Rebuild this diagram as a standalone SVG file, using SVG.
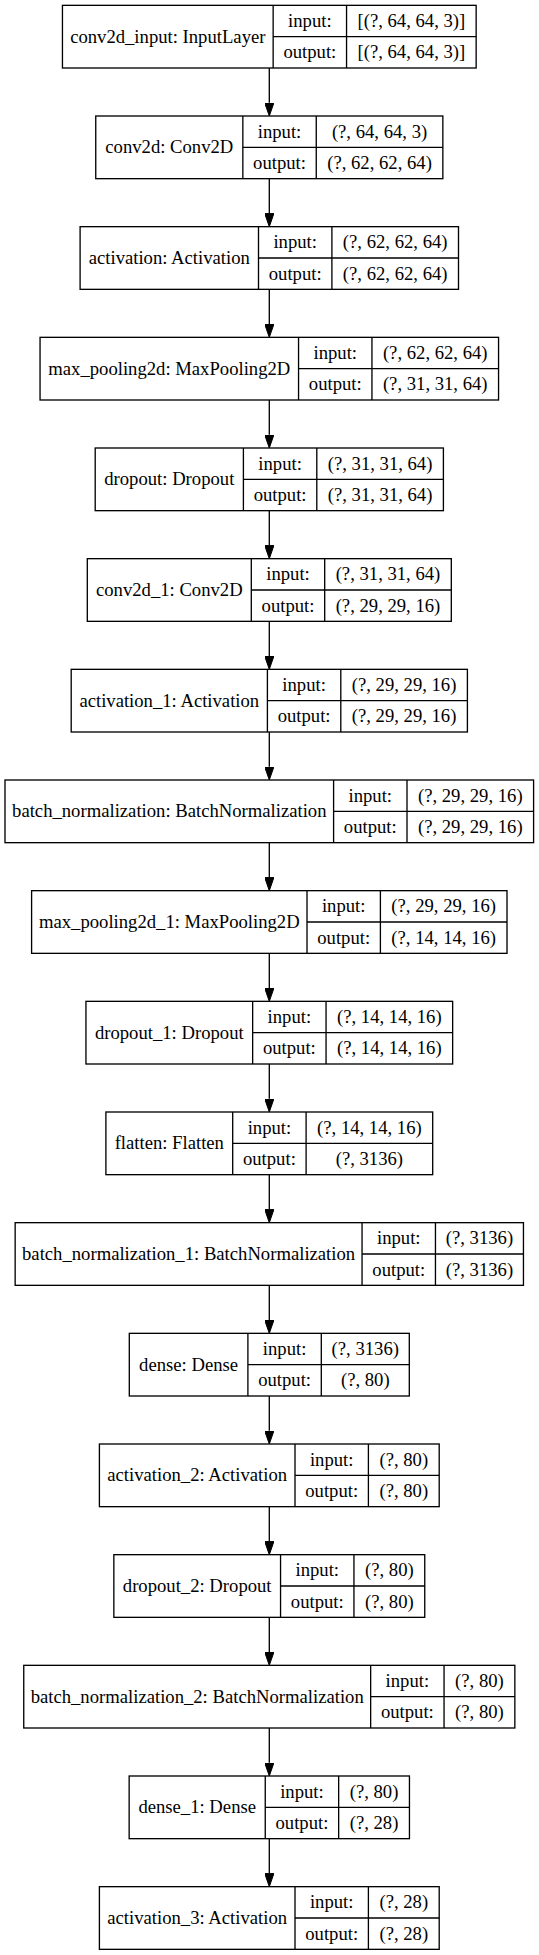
<svg xmlns="http://www.w3.org/2000/svg" width="539" height="1955" viewBox="0 0 539 1955">
<style>
.n rect{fill:#fff;stroke:#000;stroke-width:1.33}
.n line{stroke:#000;stroke-width:1.33}
.n text{font-family:"Liberation Serif","Times New Roman",serif;font-size:18.67px;text-anchor:middle;fill:#000}
.e path{fill:none;stroke:#000;stroke-width:1.33}
</style>
<defs>
<marker id="ah" markerUnits="userSpaceOnUse" viewBox="0 0 13.33 9.33" refX="0" refY="4.67" markerWidth="13.33" markerHeight="9.33" orient="auto">
<path d="M0,0 L13.33,4.67 L0,9.33 z" fill="#000" stroke="#000" stroke-width="1"/>
</marker>
</defs>
<rect x="0" y="0" width="539" height="1955" fill="#fff"/>
<g id="edges" class="e">
<path d="M269.3,68 V102.67" marker-end="url(#ah)"/>
<path d="M269.3,178.67 V213.33" marker-end="url(#ah)"/>
<path d="M269.3,289.33 V324" marker-end="url(#ah)"/>
<path d="M269.3,400 V434.67" marker-end="url(#ah)"/>
<path d="M269.3,510.67 V545.33" marker-end="url(#ah)"/>
<path d="M269.3,621.33 V656" marker-end="url(#ah)"/>
<path d="M269.3,732 V766.67" marker-end="url(#ah)"/>
<path d="M269.3,842.67 V877.33" marker-end="url(#ah)"/>
<path d="M269.3,953.33 V988" marker-end="url(#ah)"/>
<path d="M269.3,1064 V1098.67" marker-end="url(#ah)"/>
<path d="M269.3,1174.67 V1209.33" marker-end="url(#ah)"/>
<path d="M269.3,1285.33 V1320" marker-end="url(#ah)"/>
<path d="M269.3,1396 V1430.67" marker-end="url(#ah)"/>
<path d="M269.3,1506.67 V1541.33" marker-end="url(#ah)"/>
<path d="M269.3,1617.33 V1652" marker-end="url(#ah)"/>
<path d="M269.3,1728 V1762.67" marker-end="url(#ah)"/>
<path d="M269.3,1838.67 V1873.33" marker-end="url(#ah)"/>
</g>

<g id="conv2d_input" class="n" transform="translate(0,5.33)">
<rect x="62.45" y="0" width="413.7" height="62.67"/>
<line x1="273.15" y1="0" x2="273.15" y2="62.67"/><line x1="346.55" y1="0" x2="346.55" y2="62.67"/><line x1="273.15" y1="31.33" x2="476.15" y2="31.33"/>
<text x="167.8" y="37.3">conv2d_input: InputLayer</text>
<text x="309.85" y="21.7">input:</text><text x="309.85" y="53">output:</text>
<text x="411.35" y="21.7">[(?, 64, 64, 3)]</text><text x="411.35" y="53">[(?, 64, 64, 3)]</text>
</g>

<g id="conv2d" class="n" transform="translate(0,116)">
<rect x="95.75" y="0" width="347.1" height="62.67"/>
<line x1="242.85" y1="0" x2="242.85" y2="62.67"/><line x1="316.25" y1="0" x2="316.25" y2="62.67"/><line x1="242.85" y1="31.33" x2="442.85" y2="31.33"/>
<text x="169.3" y="37.3">conv2d: Conv2D</text>
<text x="279.55" y="21.7">input:</text><text x="279.55" y="53">output:</text>
<text x="379.55" y="21.7">(?, 64, 64, 3)</text><text x="379.55" y="53">(?, 62, 62, 64)</text>
</g>

<g id="activation" class="n" transform="translate(0,226.67)">
<rect x="80.1" y="0" width="378.4" height="62.67"/>
<line x1="258.5" y1="0" x2="258.5" y2="62.67"/><line x1="331.9" y1="0" x2="331.9" y2="62.67"/><line x1="258.5" y1="31.33" x2="458.5" y2="31.33"/>
<text x="169.3" y="37.3">activation: Activation</text>
<text x="295.2" y="21.7">input:</text><text x="295.2" y="53">output:</text>
<text x="395.2" y="21.7">(?, 62, 62, 64)</text><text x="395.2" y="53">(?, 62, 62, 64)</text>
</g>

<g id="max_pooling2d" class="n" transform="translate(0,337.33)">
<rect x="40.05" y="0" width="458.5" height="62.67"/>
<line x1="298.55" y1="0" x2="298.55" y2="62.67"/><line x1="371.95" y1="0" x2="371.95" y2="62.67"/><line x1="298.55" y1="31.33" x2="498.55" y2="31.33"/>
<text x="169.3" y="37.3">max_pooling2d: MaxPooling2D</text>
<text x="335.25" y="21.7">input:</text><text x="335.25" y="53">output:</text>
<text x="435.25" y="21.7">(?, 62, 62, 64)</text><text x="435.25" y="53">(?, 31, 31, 64)</text>
</g>

<g id="dropout" class="n" transform="translate(0,448)">
<rect x="95.2" y="0" width="348.2" height="62.67"/>
<line x1="243.4" y1="0" x2="243.4" y2="62.67"/><line x1="316.8" y1="0" x2="316.8" y2="62.67"/><line x1="243.4" y1="31.33" x2="443.4" y2="31.33"/>
<text x="169.3" y="37.3">dropout: Dropout</text>
<text x="280.1" y="21.7">input:</text><text x="280.1" y="53">output:</text>
<text x="380.1" y="21.7">(?, 31, 31, 64)</text><text x="380.1" y="53">(?, 31, 31, 64)</text>
</g>

<g id="conv2d_1" class="n" transform="translate(0,558.67)">
<rect x="87.3" y="0" width="364" height="62.67"/>
<line x1="251.3" y1="0" x2="251.3" y2="62.67"/><line x1="324.7" y1="0" x2="324.7" y2="62.67"/><line x1="251.3" y1="31.33" x2="451.3" y2="31.33"/>
<text x="169.3" y="37.3">conv2d_1: Conv2D</text>
<text x="288" y="21.7">input:</text><text x="288" y="53">output:</text>
<text x="388" y="21.7">(?, 31, 31, 64)</text><text x="388" y="53">(?, 29, 29, 16)</text>
</g>

<g id="activation_1" class="n" transform="translate(0,669.33)">
<rect x="71.2" y="0" width="396.2" height="62.67"/>
<line x1="267.4" y1="0" x2="267.4" y2="62.67"/><line x1="340.8" y1="0" x2="340.8" y2="62.67"/><line x1="267.4" y1="31.33" x2="467.4" y2="31.33"/>
<text x="169.3" y="37.3">activation_1: Activation</text>
<text x="304.1" y="21.7">input:</text><text x="304.1" y="53">output:</text>
<text x="404.1" y="21.7">(?, 29, 29, 16)</text><text x="404.1" y="53">(?, 29, 29, 16)</text>
</g>

<g id="batch_normalization" class="n" transform="translate(0,780)">
<rect x="5" y="0" width="528.6" height="62.67"/>
<line x1="333.6" y1="0" x2="333.6" y2="62.67"/><line x1="407" y1="0" x2="407" y2="62.67"/><line x1="333.6" y1="31.33" x2="533.6" y2="31.33"/>
<text x="169.3" y="37.3">batch_normalization: BatchNormalization</text>
<text x="370.3" y="21.7">input:</text><text x="370.3" y="53">output:</text>
<text x="470.3" y="21.7">(?, 29, 29, 16)</text><text x="470.3" y="53">(?, 29, 29, 16)</text>
</g>

<g id="max_pooling2d_1" class="n" transform="translate(0,890.67)">
<rect x="31.6" y="0" width="475.4" height="62.67"/>
<line x1="307" y1="0" x2="307" y2="62.67"/><line x1="380.4" y1="0" x2="380.4" y2="62.67"/><line x1="307" y1="31.33" x2="507" y2="31.33"/>
<text x="169.3" y="37.3">max_pooling2d_1: MaxPooling2D</text>
<text x="343.7" y="21.7">input:</text><text x="343.7" y="53">output:</text>
<text x="443.7" y="21.7">(?, 29, 29, 16)</text><text x="443.7" y="53">(?, 14, 14, 16)</text>
</g>

<g id="dropout_1" class="n" transform="translate(0,1001.33)">
<rect x="85.95" y="0" width="366.7" height="62.67"/>
<line x1="252.65" y1="0" x2="252.65" y2="62.67"/><line x1="326.05" y1="0" x2="326.05" y2="62.67"/><line x1="252.65" y1="31.33" x2="452.65" y2="31.33"/>
<text x="169.3" y="37.3">dropout_1: Dropout</text>
<text x="289.35" y="21.7">input:</text><text x="289.35" y="53">output:</text>
<text x="389.35" y="21.7">(?, 14, 14, 16)</text><text x="389.35" y="53">(?, 14, 14, 16)</text>
</g>

<g id="flatten" class="n" transform="translate(0,1112)">
<rect x="105.9" y="0" width="326.8" height="62.67"/>
<line x1="232.7" y1="0" x2="232.7" y2="62.67"/><line x1="306.1" y1="0" x2="306.1" y2="62.67"/><line x1="232.7" y1="31.33" x2="432.7" y2="31.33"/>
<text x="169.3" y="37.3">flatten: Flatten</text>
<text x="269.4" y="21.7">input:</text><text x="269.4" y="53">output:</text>
<text x="369.4" y="21.7">(?, 14, 14, 16)</text><text x="369.4" y="53">(?, 3136)</text>
</g>

<g id="batch_normalization_1" class="n" transform="translate(0,1222.67)">
<rect x="15.15" y="0" width="508.3" height="62.67"/>
<line x1="362.05" y1="0" x2="362.05" y2="62.67"/><line x1="435.45" y1="0" x2="435.45" y2="62.67"/><line x1="362.05" y1="31.33" x2="523.45" y2="31.33"/>
<text x="188.6" y="37.3">batch_normalization_1: BatchNormalization</text>
<text x="398.75" y="21.7">input:</text><text x="398.75" y="53">output:</text>
<text x="479.45" y="21.7">(?, 3136)</text><text x="479.45" y="53">(?, 3136)</text>
</g>

<g id="dense" class="n" transform="translate(0,1333.33)">
<rect x="129.3" y="0" width="280" height="62.67"/>
<line x1="247.9" y1="0" x2="247.9" y2="62.67"/><line x1="321.3" y1="0" x2="321.3" y2="62.67"/><line x1="247.9" y1="31.33" x2="409.3" y2="31.33"/>
<text x="188.6" y="37.3">dense: Dense</text>
<text x="284.6" y="21.7">input:</text><text x="284.6" y="53">output:</text>
<text x="365.3" y="21.7">(?, 3136)</text><text x="365.3" y="53">(?, 80)</text>
</g>

<g id="activation_2" class="n" transform="translate(0,1444)">
<rect x="99.4" y="0" width="339.8" height="62.67"/>
<line x1="295" y1="0" x2="295" y2="62.67"/><line x1="368.4" y1="0" x2="368.4" y2="62.67"/><line x1="295" y1="31.33" x2="439.2" y2="31.33"/>
<text x="197.2" y="37.3">activation_2: Activation</text>
<text x="331.7" y="21.7">input:</text><text x="331.7" y="53">output:</text>
<text x="403.8" y="21.7">(?, 80)</text><text x="403.8" y="53">(?, 80)</text>
</g>

<g id="dropout_2" class="n" transform="translate(0,1554.67)">
<rect x="113.85" y="0" width="310.9" height="62.67"/>
<line x1="280.55" y1="0" x2="280.55" y2="62.67"/><line x1="353.95" y1="0" x2="353.95" y2="62.67"/><line x1="280.55" y1="31.33" x2="424.75" y2="31.33"/>
<text x="197.2" y="37.3">dropout_2: Dropout</text>
<text x="317.25" y="21.7">input:</text><text x="317.25" y="53">output:</text>
<text x="389.35" y="21.7">(?, 80)</text><text x="389.35" y="53">(?, 80)</text>
</g>

<g id="batch_normalization_2" class="n" transform="translate(0,1665.33)">
<rect x="23.75" y="0" width="491.1" height="62.67"/>
<line x1="370.65" y1="0" x2="370.65" y2="62.67"/><line x1="444.05" y1="0" x2="444.05" y2="62.67"/><line x1="370.65" y1="31.33" x2="514.85" y2="31.33"/>
<text x="197.2" y="37.3">batch_normalization_2: BatchNormalization</text>
<text x="407.35" y="21.7">input:</text><text x="407.35" y="53">output:</text>
<text x="479.45" y="21.7">(?, 80)</text><text x="479.45" y="53">(?, 80)</text>
</g>

<g id="dense_1" class="n" transform="translate(0,1776)">
<rect x="129.15" y="0" width="280.3" height="62.67"/>
<line x1="265.25" y1="0" x2="265.25" y2="62.67"/><line x1="338.65" y1="0" x2="338.65" y2="62.67"/><line x1="265.25" y1="31.33" x2="409.45" y2="31.33"/>
<text x="197.2" y="37.3">dense_1: Dense</text>
<text x="301.95" y="21.7">input:</text><text x="301.95" y="53">output:</text>
<text x="374.05" y="21.7">(?, 80)</text><text x="374.05" y="53">(?, 28)</text>
</g>

<g id="activation_3" class="n" transform="translate(0,1886.67)">
<rect x="99.4" y="0" width="339.8" height="62.67"/>
<line x1="295" y1="0" x2="295" y2="62.67"/><line x1="368.4" y1="0" x2="368.4" y2="62.67"/><line x1="295" y1="31.33" x2="439.2" y2="31.33"/>
<text x="197.2" y="37.3">activation_3: Activation</text>
<text x="331.7" y="21.7">input:</text><text x="331.7" y="53">output:</text>
<text x="403.8" y="21.7">(?, 28)</text><text x="403.8" y="53">(?, 28)</text>
</g>
</svg>
